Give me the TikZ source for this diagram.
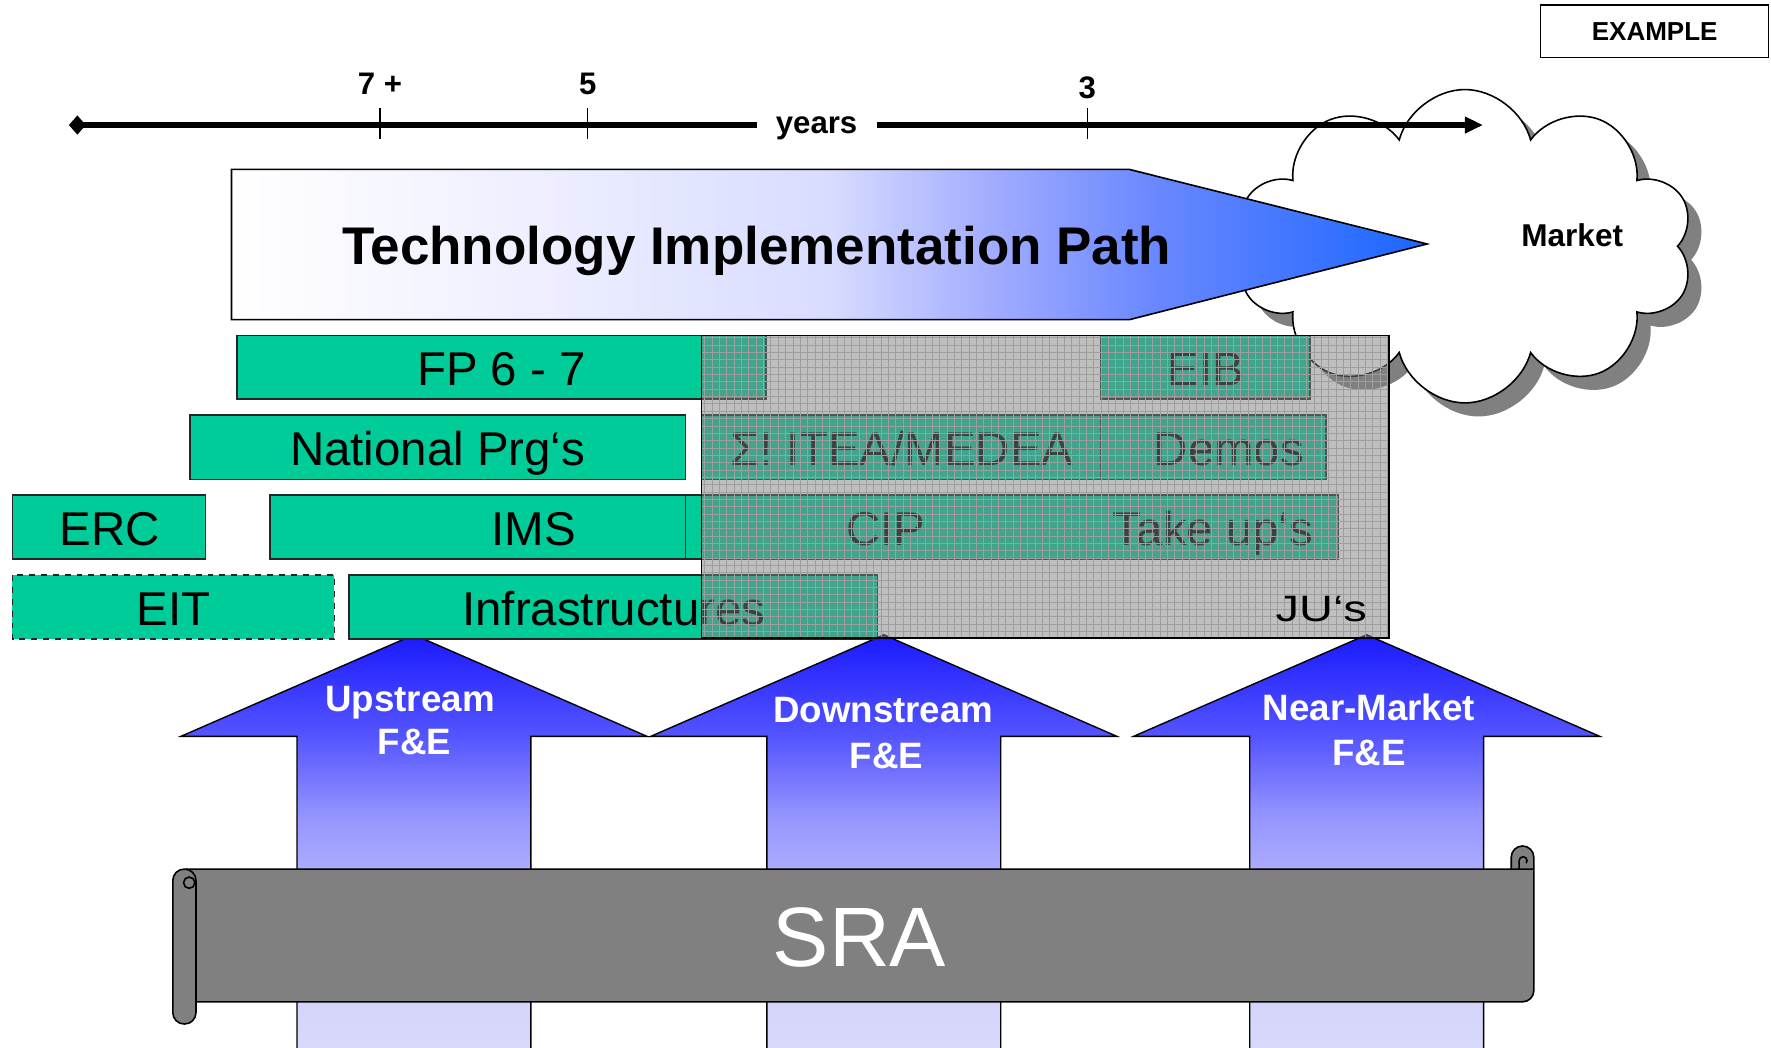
\documentclass[tikz,border=0pt]{standalone}
\usepackage{fontspec}
\setmainfont{Liberation Sans}
\usetikzlibrary{arrows.meta,shapes.symbols,shadows}

\definecolor{prgteal}{RGB}{0,204,153}
\definecolor{sragray}{RGB}{128,128,128}
\definecolor{tipblue}{RGB}{26,102,255}
\definecolor{tipa}{RGB}{238,239,255}
\definecolor{tipb}{RGB}{216,220,255}
\definecolor{tipc}{RGB}{160,171,255}
\definecolor{tipd}{RGB}{106,136,255}
\definecolor{upa}{RGB}{26,26,255}
\definecolor{upb}{RGB}{85,85,255}
\definecolor{upc}{RGB}{149,149,255}
\definecolor{upd}{RGB}{170,170,255}
\definecolor{upe}{RGB}{212,212,252}
\definecolor{upf}{RGB}{217,217,250}

\pgfdeclarehorizontalshading{tipshade}{100bp}{color(0bp)=(white); color(25bp)=(white);
  color(37.7bp)=(tipa); color(50bp)=(tipb); color(57bp)=(tipc); color(63.5bp)=(tipd);
  color(75bp)=(tipblue); color(100bp)=(tipblue)}
\pgfdeclareverticalshading{upshade}{100bp}{color(0bp)=(upf); color(25bp)=(upf);
  color(32.4bp)=(upe); color(47.5bp)=(upd); color(53.4bp)=(upc); color(62.9bp)=(upb);
  color(75bp)=(upa); color(100bp)=(upa)}

\begin{document}
\begin{tikzpicture}[x=0.02cm, y=-0.02cm, line width=0.8pt]
    \tikzstyle{prg}=[fill=prgteal, draw=black!85]
    \tikzstyle{lbl}=[anchor=base, inner sep=0pt, font=\fontsize{23.9}{28}\selectfont]
    \tikzstyle{yrs}=[anchor=base, inner sep=0pt, font=\bfseries\fontsize{15.7}{19}\selectfont]
    \tikzstyle{fe}=[anchor=base, inner sep=0pt, text=white, font=\bfseries\fontsize{18.5}{22}\selectfont]
    \tikzstyle{upbox}=[shading=upshade, draw=black, line width=0.7pt]
    \tikzstyle{scroll}=[fill=sragray, draw=black]

    \useasboundingbox (0,0) rectangle (1568,927);

    % market
    \node[cloud, cloud puffs=10, cloud ignores aspect, draw=black, fill=white,
          minimum width=8.1cm, minimum height=5.55cm, inner sep=0pt,
          drop shadow={shadow xshift=0.24cm, shadow yshift=-0.24cm, fill=sragray, opacity=1}] (cloud) at (1297,218) {};
    \node[yrs, font=\bfseries\fontsize{15.9}{19}\selectfont] (market) at (1392,218.5) {Market};

    % years axis
    \coordinate (ax0) at (61,110.7);
    \coordinate (ax1) at (1313,110.7);
    \draw[line width=3pt, {Diamond[length=0.3cm,width=0.34cm]}-{Triangle[length=0.32cm,width=0.28cm]}] (ax0) -- (ax1);
    \node[yrs, fill=white, inner xsep=0.34cm] (years) at (723,118) {years};
    \foreach \tx/\ty/\tl [count=\i] in {336.5/84/{7 +}, 520.4/84/5, 962.7/87/3} {
        \draw[line width=0.6pt] (\tx,96) -- (\tx,123.4);
        \node[yrs] (tick\i) at (\tx,\ty) {\tl};
    }

    % implementation path
    \shadedraw[shading=tipshade, draw=black] (205,150) -- (1000,150) -- (1263.5,216) -- (1000,283) -- (205,283) -- cycle;
    \node[anchor=base, inner sep=0pt, font=\bfseries\fontsize{26.7}{32}\selectfont] (tip) at (670,234.6) {Technology Implementation Path};

    % F&E arrows
    \foreach \cx in {366.5,782.5,1210}
        \shadedraw[upbox] (\cx-103.5,935) -- (\cx-103.5,652) -- (\cx-206.5,652) -- (\cx,562)
            -- (\cx+206.5,652) -- (\cx+103.5,652) -- (\cx+103.5,935) -- cycle;
    \node[fe] (upA) at (363,630) {Upstream};
    \node[fe] (upB) at (367,668.4) {F\&E};
    \node[fe] (downA) at (782,640) {Downstream};
    \node[fe] (downB) at (785,680) {F\&E};
    \node[fe] (nearA) at (1212,637.5) {Near-Market};
    \node[fe] (nearB) at (1212,678) {F\&E};

    % programmes
    \draw[prg] (210,297) rectangle (678,353.5);
    \draw[prg] (975,297) rectangle (1160,353.5);
    \draw[prg] (168,367.5) rectangle (607,424.5);
    \draw[prg] (621,367.5) rectangle (975,424.5);
    \draw[prg] (975,367.5) rectangle (1174,424.5);
    \draw[prg] (11,438) rectangle (182,495);
    \draw[prg] (239,438) rectangle (706,495);
    \draw[prg] (607,438) rectangle (962,495);
    \draw[prg] (962,438) rectangle (1185,495);
    \draw[prg, dashed] (11,509) rectangle (296,566);
    \draw[prg] (309,509) rectangle (777,566);

    \node[lbl] (fp) at (444,341.5) {FP 6 - 7};
    \node[lbl] (eib) at (1067.5,341.5) {EIB};
    \node[lbl] (nat) at (387.5,412.3) {National Prg‘s};
    \node[lbl] (itea) at (798.5,412.3) {Σ! ITEA/MEDEA};
    \node[lbl] (demos) at (1088,412.3) {Demos};
    \node[lbl] (erc) at (97,483) {ERC};
    \node[lbl] (ims) at (472.5,483) {IMS};
    \node[lbl] (cip) at (784.5,483) {CIP};
    \node[lbl] (takeup) at (1074,483) {Take up‘s};
    \node[lbl] (eit) at (153.5,553.8) {EIT};
    \node[lbl] (infra) at (543.5,553.8) {Infrastructures};

    % JU's
    \fill[sragray, opacity=0.5] (621,297) rectangle (1230,565);
    \draw[black!38, line width=0.25pt, step=0.13cm] (621,297) grid (1230,565);
    \draw (621,297) rectangle (1230,565);
    \node[lbl, anchor=base east, font=\fontsize{18.5}{22}\selectfont] (jus) at (1211,550) {\scalebox{1.28}[1]{JU‘s}};

    % SRA scroll
    \draw[scroll] (1338,769.5) -- (1338,759) arc[start angle=180,end angle=360,radius=10] -- (1358,769.5);
    \draw[scroll] (165,769.5) -- (1358,769.5) -- (1358,877) arc[start angle=0,end angle=90,radius=10] -- (165,887) -- cycle;
    \draw (1345,769.5) -- (1345,762) arc[start angle=180,end angle=400,radius=3.5];
    \draw[scroll, rounded corners=0.2cm] (153,769.5) rectangle (173.5,906.6);
    \draw[scroll] (167.5,781.5) circle[radius=5];
    \node[anchor=base, inner sep=0pt, text=white, font=\fontsize{42.5}{50}\selectfont] (sra) at (761,856) {SRA};

    % tag
    \node[draw, line width=0.6pt, minimum width=4.04cm, minimum height=0.93cm, inner sep=0pt,
          font=\bfseries\fontsize{13.1}{16}\selectfont] (example) at (1465,27.7) {EXAMPLE};
\end{tikzpicture}
\end{document}
